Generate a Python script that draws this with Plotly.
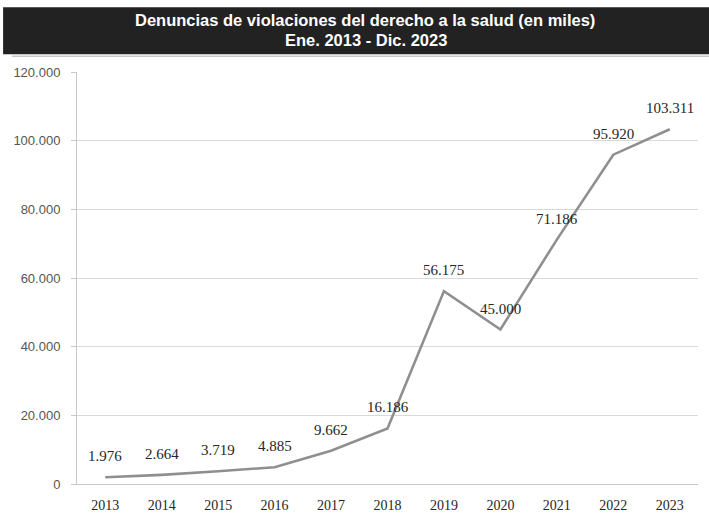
import plotly.graph_objects as go

# Denuncias anuales (valores absolutos)
years = ["2013", "2014", "2015", "2016", "2017", "2018", "2019", "2020", "2021", "2022", "2023"]
denuncias = [1976, 2664, 3719, 4885, 9662, 16186, 56175, 45000, 71186, 95920, 103311]
y_ticks = [0, 20000, 40000, 60000, 80000, 100000, 120000]
y_tick_text = ["0", "20.000", "40.000", "60.000", "80.000", "100.000", "120.000"]


def fmt_es(v):
    return f"{v:,}".replace(",", ".")


fig = go.Figure()
fig.add_trace(go.Scatter(
    x=years, y=denuncias, mode="lines",
    line=dict(color="#8f8f8f", width=2.6),
    hoverinfo="skip", showlegend=False,
))

# Etiquetas de valor sobre cada punto (posición por índice de categoría)
for i, v in enumerate(denuncias):
    fig.add_annotation(
        x=i, y=v, text=fmt_es(v), showarrow=False, yshift=21,
        font=dict(family="Liberation Serif, Times New Roman, serif", size=15, color="#262626"),
    )

# Banda del título
fig.add_shape(type="rect", xref="paper", yref="paper",
              x0=-0.119, x1=1.02, y0=1.043, y1=1.157,
              fillcolor="#222222", line=dict(width=0), layer="above")
fig.add_shape(type="line", xref="paper", yref="paper",
              x0=-0.105, x1=1.02, y0=1.038, y1=1.038,
              line=dict(color="#c8c8c8", width=1.5))
title_font = dict(family="Liberation Sans, Arial, sans-serif", size=16.5, color="white")
fig.add_annotation(
    xref="paper", yref="paper", x=0.464, y=1.126, yanchor="middle", showarrow=False,
    text="<b>Denuncias de violaciones del derecho a la salud (en miles)</b>",
    font=title_font,
)
fig.add_annotation(
    xref="paper", yref="paper", x=0.466, y=1.078, yanchor="middle", showarrow=False,
    text="<b>Ene. 2013 - Dic. 2023</b>",
    font=title_font,
)

fig.update_layout(
    width=709, height=514,
    margin=dict(l=77, r=11, t=72, b=30),
    paper_bgcolor="white", plot_bgcolor="white",
    xaxis=dict(
        type="category", range=[-0.5, 10.5], automargin=False,
        showgrid=False, showline=True, linecolor="#c8c8c8", linewidth=1,
        ticks="", ticklabelstandoff=8,
        tickfont=dict(family="Liberation Serif, Times New Roman, serif", size=14, color="#262626"),
    ),
    yaxis=dict(
        range=[0, 120000], tickvals=y_ticks, ticktext=y_tick_text, automargin=False,
        showgrid=True, gridcolor="#d9d9d9", gridwidth=1,
        showline=True, linecolor="#c8c8c8", linewidth=1,
        ticks="outside", ticklen=5, tickcolor="#c8c8c8",
        ticklabelstandoff=8, zeroline=False,
        tickfont=dict(family="Liberation Sans, Arial, sans-serif", size=13, color="#555555"),
    ),
)

fig.write_html("out.html")
